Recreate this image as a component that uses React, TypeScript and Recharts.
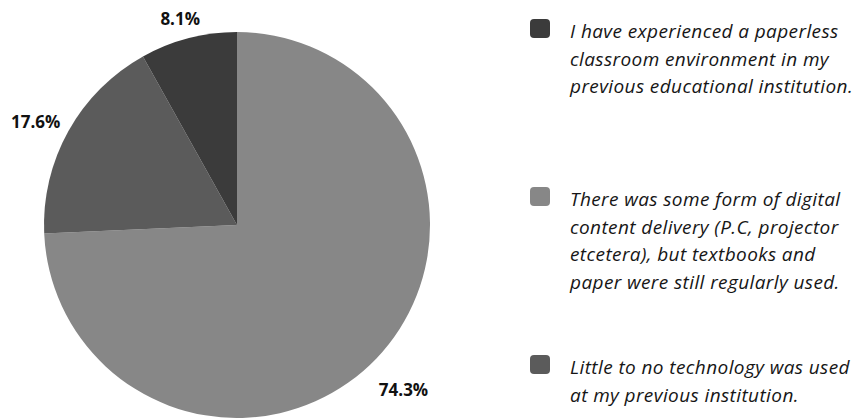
import React from "react";
import { PieChart, Pie, Cell, Legend } from "recharts";

// pie order, clockwise from 12 o'clock
const answers = [
  "There was some form of digital\ncontent delivery (P.C, projector\netcetera), but textbooks and\npaper were still regularly used.",
  "Little to no technology was used\nat my previous institution.",
  "I have experienced a paperless\nclassroom environment in my\nprevious educational institution.",
];
const shares = [74.3, 17.6, 8.1];
const colors = ["#878787", "#5b5b5b", "#3b3b3b"];
// legend lists them in another order
const legendOrder = [2, 0, 1];

const data = answers.map((name, i) => ({ name, value: shares[i] }));

const RADIAN = Math.PI / 180;
const FONT = "'Open Sans', sans-serif";

const renderLabel = ({ cx, cy, midAngle, outerRadius, value }: any) => {
  const text = `${value.toFixed(1)}%`;
  const w = text.length * 9.8;
  const h = 14;
  const cos = Math.cos(-midAngle * RADIAN);
  const sin = Math.sin(-midAngle * RADIAN);
  const r = outerRadius + 13;
  const x = cx + r * cos + (cos * w) / 2;
  // labels under the centre sit a little lower
  const y = cy + r * sin + (sin * h) / 2 + Math.max(0, sin) * 25;
  return (
    <text
      x={x}
      y={y}
      textAnchor="middle"
      dominantBaseline="central"
      fill="#111"
      fontFamily={FONT}
      fontWeight={700}
      fontSize={17}
    >
      {text}
    </text>
  );
};

const LegendList = () => (
  <div style={{ fontFamily: FONT, color: "#161616" }}>
    {legendOrder.map((i) => (
      <div key={i} style={{ display: "flex", height: 168 }}>
        <div
          style={{
            width: 20,
            height: 19,
            marginTop: 1,
            marginLeft: 10,
            background: colors[i],
            borderRadius: 4,
            flexShrink: 0,
          }}
        />
        <div
          style={{
            marginLeft: 20,
            whiteSpace: "pre-line",
            lineHeight: "27.7px",
            fontStyle: "italic",
            fontSize: 19,
            letterSpacing: 0.4,
          }}
        >
          {answers[i]}
        </div>
      </div>
    ))}
  </div>
);

export default function App() {
  return (
    <div style={{ position: "absolute", left: 0, top: 0, width: 858, height: 418, background: "#fff" }}>
      <PieChart width={858} height={418} margin={{ top: 0, right: 0, bottom: 0, left: 0 }}>
        <Pie
          data={data}
          dataKey="value"
          nameKey="name"
          cx={237}
          cy={225}
          outerRadius={193}
          startAngle={90}
          endAngle={-270}
          stroke="none"
          label={renderLabel}
          labelLine={false}
          isAnimationActive={false}
        >
          {data.map((d, i) => (
            <Cell key={d.name} fill={colors[i]} />
          ))}
        </Pie>
        <Legend
          layout="vertical"
          align="right"
          verticalAlign="top"
          content={<LegendList />}
          wrapperStyle={{ left: 520, top: 18, width: 338, right: "auto" }}
        />
      </PieChart>
    </div>
  );
}
